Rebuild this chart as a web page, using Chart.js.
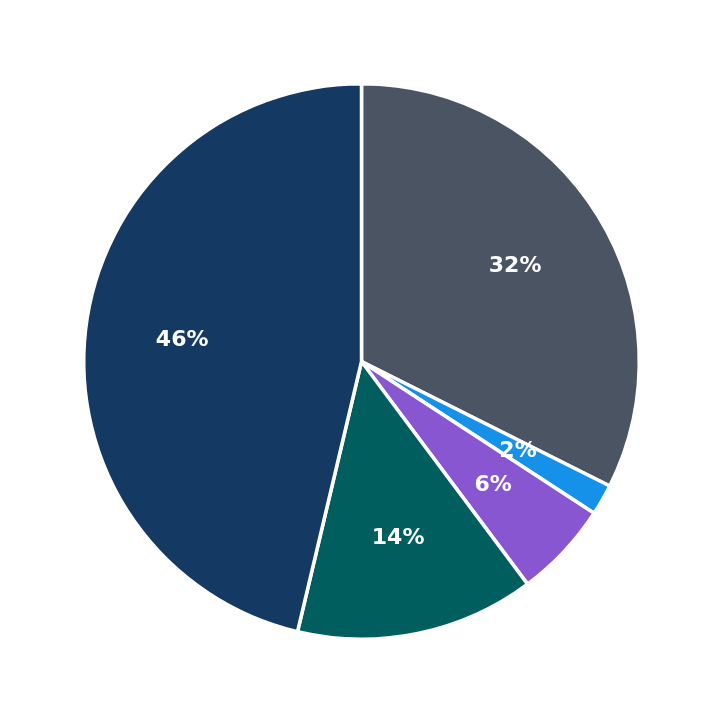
<!DOCTYPE html>
<html>
<head>
<meta charset="utf-8">
<script src="https://cdn.jsdelivr.net/npm/chart.js@4/dist/chart.umd.min.js"></script>
<style>
  html, body { margin: 0; padding: 0; background: #fff; }
  #wrap { width: 723px; height: 723px; }
</style>
</head>
<body>
<div id="wrap"><canvas id="pieChart"></canvas></div>
<script>
// slices clockwise from 12 o'clock
const sliceLabels = ['A', 'B', 'C', 'D', 'E'];
const sliceValues = [32.4, 1.8, 5.6, 13.9, 46.3];
const sliceColors = ['#4a5462', '#1591ea', '#8756d0', '#005f5e', '#143963'];

// percent text drawn inside each slice
const pctLabels = {
    id: 'pctLabels',
    afterDatasetsDraw(chart) {
        const ctx = chart.ctx;
        const meta = chart.getDatasetMeta(0);
        const total = sliceValues.reduce((a, b) => a + b, 0);
        ctx.save();
        ctx.fillStyle = '#ffffff';
        ctx.font = 'bold 22px "DejaVu Sans"';
        ctx.textAlign = 'center';
        ctx.textBaseline = 'middle';
        meta.data.forEach((arc, i) => {
            const p = arc.getProps(['x', 'y', 'startAngle', 'endAngle', 'outerRadius'], true);
            const mid = (p.startAngle + p.endAngle) / 2;
            const r = p.outerRadius * 0.65;
            const pct = Math.round(sliceValues[i] / total * 100) + '%';
            ctx.fillText(pct, p.x + Math.cos(mid) * r, p.y + Math.sin(mid) * r);
        });
        ctx.restore();
    }
};

new Chart(document.getElementById('pieChart'), {
    type: 'pie',
    data: {
        labels: sliceLabels,
        datasets: [{
            data: sliceValues,
            backgroundColor: sliceColors,
            borderColor: '#ffffff',
            borderWidth: 3.5
        }]
    },
    options: {
        responsive: true,
        maintainAspectRatio: false,
        animation: false,
        layout: { padding: 82 },
        plugins: {
            legend: { display: false },
            tooltip: { enabled: false }
        }
    },
    plugins: [pctLabels]
});
</script>
</body>
</html>
